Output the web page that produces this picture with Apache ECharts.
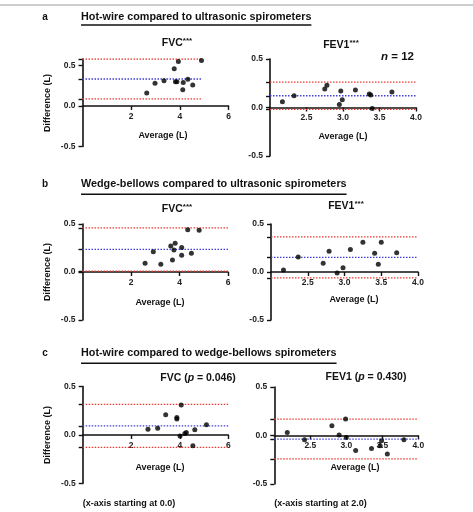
<!DOCTYPE html>
<html>
<head>
<meta charset="utf-8">
<script src="https://cdn.jsdelivr.net/npm/echarts@6/dist/echarts.min.js"></script>
<style>
  html, body { margin: 0; padding: 0; background: #fff; }
  #main { width: 473px; height: 512px; }
</style>
</head>
<body>
<div id="main"></div>
<script>
// Bland-Altman points: [average (L), difference (L)]
var aFvc = [[2.64, 0.16], [2.98, 0.28], [3.35, 0.31], [3.77, 0.46], [3.94, 0.55], [3.82, 0.30],
  [3.88, 0.30], [4.14, 0.29], [4.12, 0.20], [4.33, 0.33], [4.53, 0.26], [4.89, 0.56]];
var aFev1 = [[2.17, 0.06], [2.33, 0.12], [2.75, 0.19], [2.78, 0.23], [2.97, 0.17], [2.95, 0.03],
  [2.99, 0.08], [3.17, 0.18], [3.36, 0.14], [3.38, 0.13], [3.40, -0.01], [3.67, 0.16]];
var bFvc = [[2.58, 0.09], [2.92, 0.21], [3.23, 0.08], [3.64, 0.27], [3.82, 0.30], [3.77, 0.23],
  [3.71, 0.125], [4.09, 0.255], [4.09, 0.175], [4.34, 0.44], [4.49, 0.195], [4.81, 0.435]];
var bFev1 = [[2.17, 0.02], [2.37, 0.155], [2.71, 0.09], [2.79, 0.215], [2.90, -0.01], [2.98, 0.045],
  [3.08, 0.235], [3.25, 0.31], [3.41, 0.195], [3.46, 0.08], [3.50, 0.31], [3.71, 0.2]];
var cFvc = [[2.69, 0.06], [3.09, 0.07], [3.42, 0.21], [3.88, 0.18], [3.88, 0.165], [4.06, 0.31],
  [4.01, -0.01], [4.21, 0.015], [4.27, 0.025], [4.54, -0.11], [4.62, 0.055], [5.10, 0.105]];
var cFev1 = [[2.18, 0.03], [2.42, -0.045], [2.80, 0.10], [2.90, 0.005], [2.99, 0.17], [3.00, -0.02],
  [3.13, -0.155], [3.35, -0.135], [3.47, -0.105], [3.49, -0.055], [3.57, -0.19], [3.80, -0.045]];

// [lower limit, bias, upper limit]
var aFvcLines = [0.087, 0.333, 0.58];
var aFev1Lines = [-0.02, 0.121, 0.262];
var bFvcLines = [0.01, 0.235, 0.46];
var bFev1Lines = [-0.062, 0.152, 0.365];
var cFvcLines = [-0.127, 0.094, 0.316];
var cFev1Lines = [-0.24, -0.037, 0.168];

var yTicks = [-0.5, 0, 0.5];
var xTicksFvc = [2, 4, 6];
var xTicksFev1 = [2.5, 3.0, 3.5, 4.0];

var letters = ['a', 'b', 'c'];
var headings = [
  'Hot-wire compared to ultrasonic spirometers',
  'Wedge-bellows compared to ultrasonic spirometers',
  'Hot-wire compared to wedge-bellows spirometers'
];
var footnotes = ['(x-axis starting at 0.0)', '(x-axis starting at 2.0)'];

var FONT = '"Liberation Sans", Arial, Helvetica, sans-serif';
var RED = '#ea3a30';
var BLUE = '#3f3fd6';
var INK = '#111';

// layout of the six plots (pixels)
var panels = [
  { data: aFvc, lines: aFvcLines, xr: [0, 6], lineX: [0, 4.93], ticks: xTicksFvc, yMax: 0.58,
    grid: { left: 82.5, top: 59, width: 146, height: 87.4 }, title: [177, 43], avg: [163, 136] },
  { data: aFev1, lines: aFev1Lines, xr: [2, 4], lineX: [2, 4], ticks: xTicksFev1, yMax: 0.5,
    grid: { left: 270, top: 59, width: 146, height: 97 }, title: [341, 45], avg: [343, 137] },
  { data: bFvc, lines: bFvcLines, xr: [0, 6], lineX: [0, 6], ticks: xTicksFvc, yMax: 0.5,
    grid: { left: 82.5, top: 224, width: 145.5, height: 96 }, title: [177, 209], avg: [160, 302.5] },
  { data: bFev1, lines: bFev1Lines, xr: [2, 4], lineX: [2, 4], ticks: xTicksFev1, yMax: 0.5,
    grid: { left: 271, top: 224, width: 147, height: 96 }, title: [346, 206], avg: [354, 299.5] },
  { data: cFvc, lines: cFvcLines, xr: [0, 6], lineX: [0, 6], ticks: xTicksFvc, yMax: 0.5,
    grid: { left: 82.7, top: 386.5, width: 145.6, height: 97 }, title: [198, 378], avg: [160, 467.5] },
  { data: cFev1, lines: cFev1Lines, xr: [2, 4], lineX: [2, 4], ticks: xTicksFev1, yMax: 0.5,
    grid: { left: 274.3, top: 387, width: 144, height: 97 }, title: [366, 377], avg: [355, 467.5] }
];

var titleTexts = [
  '{m|FVC}{s|***}', '{m|FEV1}{s|***}',
  '{m|FVC}{s|***}', '{m|FEV1}{s|***}',
  '{m|FVC (}{i|p}{m| = 0.046)}', '{m|FEV1 (}{i|p}{m| = 0.430)}'
];
var titleRich = {
  m: { fontFamily: FONT, fontWeight: 'bold', fontSize: 10.5, fill: INK, lineHeight: 13 },
  i: { fontFamily: FONT, fontWeight: 'bold', fontStyle: 'italic', fontSize: 10.5, fill: INK, lineHeight: 13 },
  s: { fontFamily: FONT, fontWeight: 'bold', fontSize: 8, fill: INK, verticalAlign: 'top', lineHeight: 13 }
};

var tickStyle = { color: INK, width: 1.4 };
var labelStyle = { fontFamily: FONT, fontWeight: 'bold', fontSize: 8.5, color: '#222' };
var lineColors = [RED, BLUE, RED];

var grids = [], xAxes = [], yAxes = [], series = [];
panels.forEach(function (p, i) {
  grids.push(Object.assign({ outerBoundsMode: 'none', containLabel: false }, p.grid));
  // put the x axis on y = 0 (moves line, ticks and labels together)
  var zeroOffset = -p.grid.height * (0 - (-0.5)) / (p.yMax - (-0.5));
  xAxes.push({
    gridIndex: i, type: 'value', min: p.xr[0], max: p.xr[1], position: 'bottom', offset: zeroOffset,
    axisLine: { show: true, onZero: false, lineStyle: { color: INK, width: 1.6 } },
    axisTick: { show: true, length: 4, lineStyle: tickStyle, customValues: p.ticks },
    axisLabel: Object.assign({ customValues: p.ticks, margin: 6,
      formatter: function (v) { return p.xr[0] === 0 ? String(v) : v.toFixed(1); } }, labelStyle),
    splitLine: { show: false }
  });
  yAxes.push({
    gridIndex: i, type: 'value', min: -0.5, max: p.yMax,
    axisLine: { show: true, onZero: false, lineStyle: { color: INK, width: 1.6 } },
    axisTick: { show: true, length: 4, lineStyle: tickStyle, customValues: yTicks.concat(p.lines) },
    axisLabel: Object.assign({ customValues: yTicks, margin: 7,
      formatter: function (v) { return v.toFixed(1); } }, labelStyle),
    splitLine: { show: false }
  });
  // bias and limits of agreement
  p.lines.forEach(function (v, k) {
    series.push({
      type: 'line', xAxisIndex: i, yAxisIndex: i, silent: true, z: 1,
      data: [[p.lineX[0], v], [p.lineX[1], v]], symbol: 'none',
      lineStyle: { color: lineColors[k], type: [1.5, 1.5], width: 1.3 }
    });
  });
  series.push({
    type: 'scatter', xAxisIndex: i, yAxisIndex: i,
    data: p.data, symbolSize: 5,
    itemStyle: { color: '#000' }, z: 3
  });
});

// measure heading widths for their underlines
var ctx = document.createElement('canvas').getContext('2d');
var headFont = 'bold 10.8px ' + FONT;
ctx.font = headFont;

var graphic = [
  { type: 'line', shape: { x1: 0, y1: 5, x2: 473, y2: 5 }, style: { stroke: '#9a9a9a', lineWidth: 1 } }
];
var headY = [17, 184.5, 353.3];
var lineY = [25, 194.3, 363.3];
var rowMid = [103, 272, 435];
letters.forEach(function (l, r) {
  graphic.push({ type: 'text', x: 45, y: headY[r],
    style: { text: l, font: 'bold 10px ' + FONT, fill: INK, align: 'center', verticalAlign: 'middle' } });
  graphic.push({ type: 'text', x: 81, y: headY[r],
    style: { text: headings[r], font: headFont, fill: INK, align: 'left', verticalAlign: 'middle' } });
  var w = ctx.measureText(headings[r]).width;
  graphic.push({ type: 'line', shape: { x1: 81, y1: lineY[r], x2: 81 + w, y2: lineY[r] },
    style: { stroke: INK, lineWidth: 1.4 } });
  graphic.push({ type: 'text', x: 48, y: rowMid[r], rotation: Math.PI / 2,
    style: { text: 'Difference (L)', font: 'bold 9px ' + FONT, fill: INK, align: 'center', verticalAlign: 'middle' } });
});
panels.forEach(function (p, i) {
  graphic.push({ type: 'text', x: p.title[0], y: p.title[1],
    style: { text: titleTexts[i], rich: titleRich, align: 'center', verticalAlign: 'middle' } });
  graphic.push({ type: 'text', x: p.avg[0], y: p.avg[1],
    style: { text: 'Average (L)', font: 'bold 9px ' + FONT, fill: INK, align: 'center', verticalAlign: 'middle' } });
});
graphic.push({ type: 'text', x: 414, y: 56.5,
  style: { text: '{i|n}{m| = 12}', rich: {
    i: { fontFamily: FONT, fontWeight: 'bold', fontStyle: 'italic', fontSize: 11.5, fill: INK },
    m: { fontFamily: FONT, fontWeight: 'bold', fontSize: 11.5, fill: INK } },
    align: 'right', verticalAlign: 'middle' } });
graphic.push({ type: 'text', x: 82.7, y: 503.3,
  style: { text: footnotes[0], font: 'bold 9px ' + FONT, fill: INK, align: 'left', verticalAlign: 'middle' } });
graphic.push({ type: 'text', x: 274.3, y: 503.3,
  style: { text: footnotes[1], font: 'bold 9px ' + FONT, fill: INK, align: 'left', verticalAlign: 'middle' } });

var myChart = echarts.init(document.getElementById('main'), null, { renderer: 'canvas' });
myChart.setOption({
  animation: false,
  backgroundColor: '#fff',
  grid: grids,
  xAxis: xAxes,
  yAxis: yAxes,
  series: series,
  graphic: graphic
});
</script>
</body>
</html>
